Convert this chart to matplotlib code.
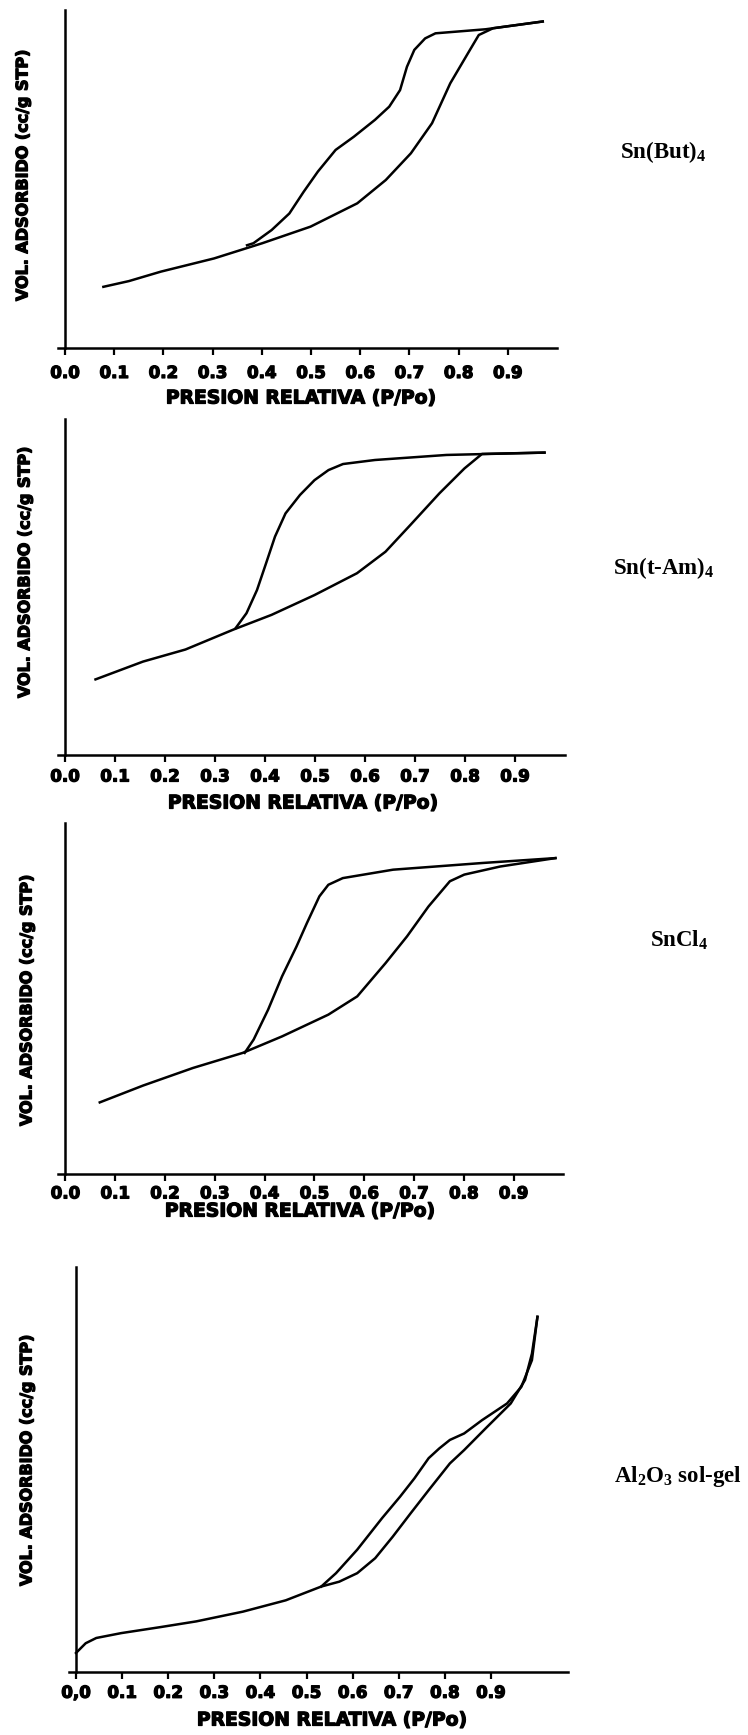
import matplotlib
matplotlib.use("Agg")
import matplotlib.pyplot as plt
import matplotlib.patheffects as pe

# ---------------- data ----------------
# relative pressure P/Po and adsorbed volume (arbitrary units, 0-100 of y axis)
sn_but_ads_x = [0.078, 0.13, 0.195, 0.303, 0.401, 0.499, 0.594, 0.652, 0.703, 0.746, 0.783, 0.819, 0.841, 0.870, 0.971]
sn_but_ads_y = [18.1, 19.8, 22.6, 26.5, 31.0, 35.9, 42.8, 49.7, 57.6, 66.5, 78.3, 87.2, 92.6, 94.6, 96.6]
sn_but_des_x = [0.971, 0.855, 0.753, 0.732, 0.710, 0.695, 0.681, 0.659, 0.630, 0.587, 0.550, 0.514, 0.485, 0.456, 0.420, 0.383, 0.37]
sn_but_des_y = [96.6, 94.3, 93.1, 91.6, 88.2, 83.2, 76.3, 71.4, 67.5, 62.5, 58.6, 52.2, 46.2, 39.8, 34.9, 31.0, 30.4]

sn_tam_ads_x = [0.061, 0.156, 0.241, 0.338, 0.413, 0.499, 0.584, 0.641, 0.691, 0.749, 0.799, 0.834, 0.959]
sn_tam_ads_y = [22.5, 27.8, 31.4, 37.4, 41.7, 47.6, 54.1, 60.5, 68.5, 77.9, 85.3, 89.6, 90.0]
sn_tam_des_x = [0.959, 0.763, 0.620, 0.556, 0.527, 0.499, 0.470, 0.441, 0.420, 0.402, 0.384, 0.363, 0.341]
sn_tam_des_y = [90.0, 89.3, 87.8, 86.6, 84.8, 81.8, 77.4, 71.9, 65.0, 57.0, 49.1, 42.2, 37.7]

sncl_ads_x = [0.069, 0.156, 0.256, 0.356, 0.435, 0.528, 0.586, 0.643, 0.686, 0.729, 0.772, 0.801, 0.873, 0.984]
sncl_ads_y = [20.4, 25.2, 30.2, 34.5, 39.2, 45.4, 50.6, 60.1, 67.7, 76.2, 83.4, 85.3, 87.6, 90.0]
sncl_des_x = [0.984, 0.837, 0.658, 0.557, 0.528, 0.510, 0.485, 0.464, 0.435, 0.407, 0.378, 0.360]
sncl_des_y = [90.0, 88.6, 86.7, 84.3, 82.4, 79.1, 71.5, 64.8, 56.3, 46.8, 38.3, 34.5]

al_ads_x = [0.0, 0.021, 0.044, 0.098, 0.184, 0.261, 0.362, 0.455, 0.532, 0.571, 0.610, 0.649, 0.687,
            0.726, 0.765, 0.811, 0.842, 0.889, 0.943, 0.974, 0.989, 1.001]
al_ads_y = [4.7, 7.1, 8.4, 9.6, 11.1, 12.5, 14.9, 17.7, 21.1, 22.3, 24.4, 28.1, 33.4,
            39.2, 44.9, 51.5, 54.8, 60.2, 66.3, 72.1, 78.6, 87.7]
al_des_x = [1.001, 0.989, 0.966, 0.935, 0.881, 0.842, 0.811, 0.788, 0.765, 0.734, 0.703, 0.664, 0.610, 0.564, 0.532]
al_des_y = [87.7, 77.0, 70.4, 66.3, 62.2, 58.9, 57.3, 55.2, 52.8, 47.8, 43.3, 38.0, 30.2, 24.4, 21.1]

tick_values = [0.0, 0.1, 0.2, 0.3, 0.4, 0.5, 0.6, 0.7, 0.8, 0.9]
tick_labels = ["0.0", "0.1", "0.2", "0.3", "0.4", "0.5", "0.6", "0.7", "0.8", "0.9"]
tick_labels_al = ["0,0", "0.1", "0.2", "0.3", "0.4", "0.5", "0.6", "0.7", "0.8", "0.9"]

sample_names = [r"Sn(But)$_\mathbf{4}$", r"Sn(t-Am)$_\mathbf{4}$", r"SnCl$_\mathbf{4}$",
                r"Al$_\mathbf{2}$O$_\mathbf{3}$ sol-gel"]
xlabel_text = "PRESION RELATIVA (P/Po)"
ylabel_text = "VOL. ADSORBIDO (cc/g STP)"

# ---------------- figure ----------------
W, H, DPI = 748, 1735, 100
plt.rcParams["mathtext.fontset"] = "custom"
plt.rcParams["mathtext.rm"] = "Liberation Serif:bold"
plt.rcParams["mathtext.bf"] = "Liberation Serif:bold"
plt.rcParams["mathtext.default"] = "bf"

fig = plt.figure(figsize=(W / DPI, H / DPI), dpi=DPI)
fig.patch.set_facecolor("white")

AX_FONT = dict(family="DejaVu Sans", weight="bold")
HEAVY = [pe.withStroke(linewidth=0.9, foreground="black")]


def make_axes(x0_px, unit_px, xmax, bottom_px, top_px):
    xmin = -0.015
    left = x0_px + xmin * unit_px
    right = x0_px + xmax * unit_px
    ax = fig.add_axes([left / W, 1 - bottom_px / H, (right - left) / W, (bottom_px - top_px) / H])
    ax.set_xlim(xmin, xmax)
    ax.set_ylim(0, 100)
    return ax, bottom_px - top_px


panels = [
    dict(geom=(65, 492, 1.0, 348, 10), pad=6.5, xl_off=50, yl_x=23, yl_c=175, xl_c=301,
         ads=(sn_but_ads_x, sn_but_ads_y), des=(sn_but_des_x, sn_but_des_y), ticks=tick_labels,
         name_xy=(706, 152)),
    dict(geom=(65, 500, 1.0, 755, 419), pad=4.0, xl_off=48, yl_x=25, yl_c=572, xl_c=303,
         ads=(sn_tam_ads_x, sn_tam_ads_y), des=(sn_tam_des_x, sn_tam_des_y), ticks=tick_labels,
         name_xy=(714, 568)),
    dict(geom=(65.4, 498, 1.0, 1174, 823), pad=2.5, xl_off=37, yl_x=27, yl_c=1000, xl_c=300,
         ads=(sncl_ads_x, sncl_ads_y), des=(sncl_des_x, sncl_des_y), ticks=tick_labels,
         name_xy=(708, 940)),
    dict(geom=(76, 461, 1.067, 1672, 1267), pad=3.5, xl_off=48, yl_x=27, yl_c=1460, xl_c=332,
         ads=(al_ads_x, al_ads_y), des=(al_des_x, al_des_y), ticks=tick_labels_al,
         name_xy=(742, 1476)),
]

for p, name in zip(panels, sample_names):
    x0, unit, xmax, bottom, top = p["geom"]
    ax, h_px = make_axes(x0, unit, xmax, bottom, top)
    ax.plot(p["ads"][0], p["ads"][1], color="black", lw=1.8, solid_joinstyle="round")
    ax.plot(p["des"][0], p["des"][1], color="black", lw=1.8, solid_joinstyle="round")

    for s in ("top", "right"):
        ax.spines[s].set_visible(False)
    ax.spines["left"].set_position(("data", 0))
    ax.spines["left"].set_linewidth(1.8)
    ax.spines["bottom"].set_linewidth(1.8)
    ax.set_yticks([])
    ax.set_xticks(tick_values)
    ax.set_xticklabels(p["ticks"], fontsize=12, path_effects=HEAVY, **AX_FONT)
    ax.tick_params(axis="x", direction="out", length=5, width=1.6, pad=p["pad"])

    left_px = x0 - 0.015 * unit
    width_px = (xmax + 0.015) * unit
    ax.set_xlabel(xlabel_text, fontsize=13.5, va="center", path_effects=HEAVY, **AX_FONT)
    ax.xaxis.set_label_coords((p["xl_c"] - left_px) / width_px, -p["xl_off"] / h_px)
    ax.set_ylabel(ylabel_text, fontsize=11.5, va="center", ha="center", path_effects=HEAVY, **AX_FONT)
    ax.yaxis.set_label_coords((p["yl_x"] - left_px) / width_px, (bottom - p["yl_c"]) / h_px)

    nx, ny = p["name_xy"]
    fig.text(nx / W, 1 - ny / H, name, ha="right", va="center", fontsize=16.5,
             family="Liberation Serif", weight="bold")

fig.savefig("out.png", dpi=DPI, facecolor="white")
